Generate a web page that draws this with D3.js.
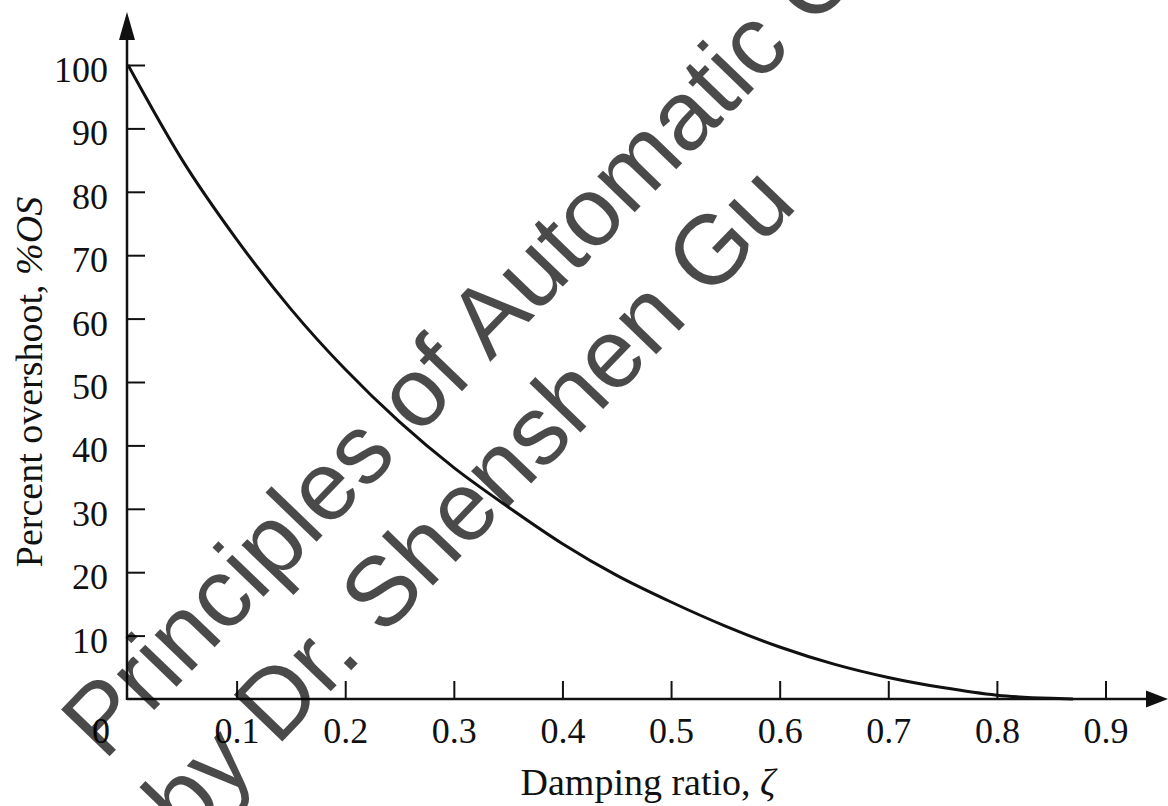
<!DOCTYPE html>
<html>
<head>
<meta charset="utf-8">
<script src="https://cdn.jsdelivr.net/npm/d3@7"></script>
<style>
  html, body { margin: 0; padding: 0; background: #fff; }
  svg { display: block; }
</style>
</head>
<body>
<svg id="chart" width="1168" height="806"></svg>
<script>
// damping ratio vs percent overshoot
const zeta      = [0, 0.05, 0.1, 0.15, 0.2, 0.25, 0.3, 0.35, 0.4, 0.45, 0.5, 0.55, 0.6, 0.65, 0.7, 0.75, 0.8, 0.85, 0.87];
const overshoot = [100, 85, 72.5, 61.5, 52, 43.7, 36.5, 30.3, 24.5, 19.5, 15.3, 11.5, 8.2, 5.5, 3.4, 1.8, 0.6, 0.1, 0];
const xTicks = [0.1, 0.2, 0.3, 0.4, 0.5, 0.6, 0.7, 0.8, 0.9];
const yTicks = [10, 20, 30, 40, 50, 60, 70, 80, 90, 100];
const watermark = ["Principles of Automatic Control", "by Dr. Shenshen Gu"];

const W = 1168, H = 806;
const serif = "'Liberation Serif', 'Times New Roman', serif";

const svg = d3.select("#chart");

const x = d3.scaleLinear().domain([0, 0.9]).range([128, 1105.5]);
const y = d3.scaleLinear().domain([0, 100]).range([699, 65]);

// axis lines with arrow heads
const axisG = svg.append("g");
axisG.append("line")
  .attr("x1", x(0) - 1).attr("x2", W - 18)
  .attr("y1", y(0)).attr("y2", y(0))
  .attr("stroke", "#111").attr("stroke-width", 2.5);
axisG.append("path")
  .attr("d", `M${W},${y(0)} L${W - 22},${y(0) - 8.5} L${W - 22},${y(0) + 8.5} Z`)
  .attr("fill", "#111");
axisG.append("line")
  .attr("x1", x(0) - 1).attr("x2", x(0) - 1)
  .attr("y1", y(0) + 1).attr("y2", 36)
  .attr("stroke", "#111").attr("stroke-width", 2.5);
axisG.append("path")
  .attr("d", `M${x(0) - 1},12 L${x(0) - 9},40 L${x(0) + 7},40 Z`)
  .attr("fill", "#111");

// ticks
const xAxis = d3.axisBottom(x).tickValues(xTicks).tickSize(-18).tickSizeOuter(0)
  .tickPadding(18).tickFormat(d3.format(".1f"));
const gx = svg.append("g").attr("transform", `translate(0,${y(0)})`).call(xAxis);
gx.select(".domain").remove();

const yAxis = d3.axisLeft(y).tickValues(yTicks).tickSize(-18).tickSizeOuter(0)
  .tickPadding(19);
const gy = svg.append("g").attr("transform", `translate(${x(0) - 1},0)`).call(yAxis);
gy.select(".domain").remove();

svg.selectAll(".tick line").attr("stroke", "#111").attr("stroke-width", 2);
svg.selectAll(".tick text")
  .attr("fill", "#111")
  .style("font-family", serif)
  .style("font-size", "36px");
gy.selectAll(".tick text").attr("dy", "0.46em");

// shared origin label
svg.append("text")
  .attr("x", x(0) - 27).attr("y", y(0) + 44)
  .attr("text-anchor", "middle")
  .style("font-family", serif).style("font-size", "36px").attr("fill", "#111")
  .text("0");

// axis titles
const xt = svg.append("text")
  .attr("x", (x(0) + W) / 2).attr("y", 795)
  .attr("text-anchor", "middle")
  .style("font-family", serif).style("font-size", "38px").attr("fill", "#111");
xt.append("tspan").text("Damping ratio, ");
xt.append("tspan").style("font-style", "italic").text("ζ");

const yt = svg.append("text")
  .attr("transform", `translate(42,${y(50)}) rotate(-90)`)
  .attr("text-anchor", "middle")
  .style("font-family", serif).style("font-size", "38px").attr("fill", "#111");
yt.append("tspan").text("Percent overshoot, ");
yt.append("tspan").style("font-style", "italic").text("%OS");

// curve
const pts = zeta.map((z, i) => [z, overshoot[i]]);
const line = d3.line().x(d => x(d[0])).y(d => y(d[1])).curve(d3.curveMonotoneX);
svg.append("path")
  .datum(pts)
  .attr("d", line)
  .attr("fill", "none")
  .attr("stroke", "#111")
  .attr("stroke-width", 3);

// watermark on top
const wm = svg.append("text")
  .attr("transform", "translate(104,762) rotate(-46)")
  .style("font-family", "'Liberation Sans', Arial, sans-serif")
  .style("font-size", "98px")
  .attr("fill", "#000")
  .attr("fill-opacity", 0.71);
wm.selectAll("tspan")
  .data(watermark)
  .join("tspan")
  .attr("x", 0)
  .attr("dy", (d, i) => i === 0 ? 0 : 114)
  .text(d => d);
</script>
</body>
</html>
